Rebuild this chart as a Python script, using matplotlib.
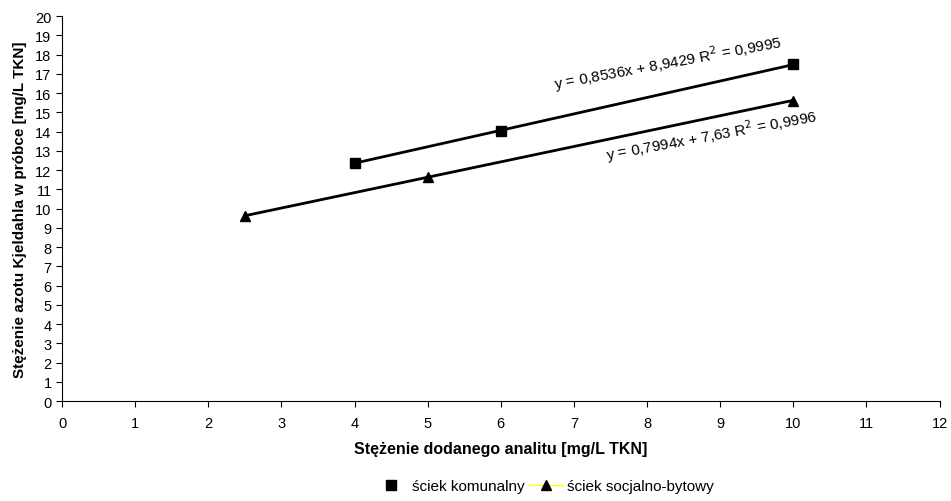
import numpy as np
import matplotlib
matplotlib.use("Agg")
import matplotlib.pyplot as plt

plt.rcParams["font.family"] = ["Liberation Sans", "DejaVu Sans"]

# data
x_kom = [4, 6, 10]
y_kom = [12.35, 14.05, 17.5]
x_soc = [2.5, 5, 10]
y_soc = [9.6, 11.65, 15.6]

slope_kom, icpt_kom = 0.8536, 8.9429
slope_soc, icpt_soc = 0.7994, 7.63

eq_kom = "y = 0,8536x + 8,9429 R$^2$ = 0,9995"
eq_soc = "y = 0,7994x + 7,63 R$^2$ = 0,9996"

fig = plt.figure(figsize=(9.51, 5.02), dpi=100)
ax = fig.add_axes([0.0652, 0.199, 0.9228, 0.767])

# series
ax.plot(x_kom, y_kom, linestyle="none", marker="s", color="black", markersize=6.5,
        label="ściek komunalny", zorder=4)
ax.plot(x_soc, y_soc, color="#ffff00", linewidth=1, marker="^", markersize=7.5,
        markerfacecolor="black", markeredgecolor="black",
        label="ściek socjalno-bytowy", zorder=3)

# trendlines
xt = np.array([min(x_kom), max(x_kom)])
ax.plot(xt, slope_kom * xt + icpt_kom, color="black", linewidth=2, zorder=3.5)
xt = np.array([min(x_soc), max(x_soc)])
ax.plot(xt, slope_soc * xt + icpt_soc, color="black", linewidth=2, zorder=3.5)

ax.text(8.28, 17.62, eq_kom, rotation=10.5, ha="center", va="center", fontsize=11,
        rotation_mode="anchor")
ax.text(8.88, 13.85, eq_soc, rotation=10.5, ha="center", va="center", fontsize=11,
        rotation_mode="anchor")

ax.set_xlim(0, 12)
ax.set_ylim(0, 20)
ax.set_xticks(range(0, 13))
ax.set_yticks(range(0, 21))
ax.tick_params(labelsize=10.5, length=4, direction="out")
ax.tick_params(axis="x", pad=7)
for s in ["top", "right"]:
    ax.spines[s].set_visible(False)

ax.set_xlabel("Stężenie dodanego analitu [mg/L TKN]", fontsize=11.5, fontweight="bold",
              labelpad=8)
ax.set_ylabel("Stężenie azotu Kjeldahla w próbce [mg/L TKN]", fontsize=11,
              fontweight="bold", labelpad=6)

fig.legend(loc="center", bbox_to_anchor=(0.572, 0.03), ncol=2, frameon=False,
           fontsize=11, handlelength=2.2, columnspacing=0.3, handletextpad=0.3)

fig.savefig("out.png", dpi=100)
